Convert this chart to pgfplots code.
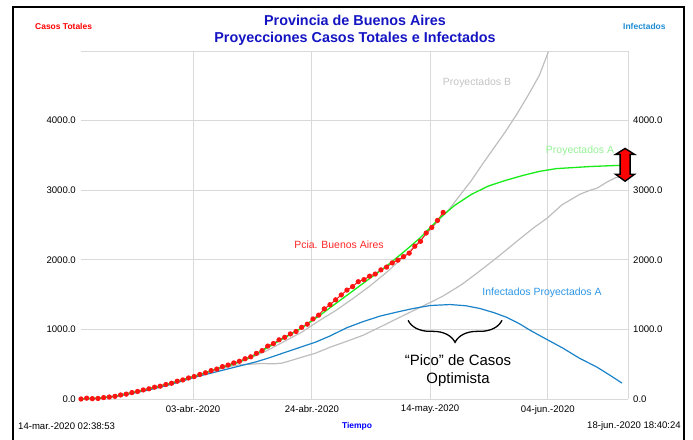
\documentclass[border=0pt]{standalone}
\usepackage{fontspec}
\setmainfont{Liberation Sans}
\usepackage{pgfplots}
\usepackage{pgfplotstable}
\pgfplotsset{compat=1.18}
\usetikzlibrary{decorations.pathreplacing}

\definecolor{gridgray}{RGB}{217,217,217}
\definecolor{projgray}{RGB}{190,190,190}
\definecolor{projgreen}{RGB}{25,235,25}
\definecolor{infblue}{RGB}{25,130,200}
\definecolor{titleblue}{RGB}{20,20,195}
\definecolor{lblgreen}{RGB}{150,240,150}
\definecolor{lblblue}{RGB}{45,150,230}
\definecolor{lblgray}{RGB}{195,195,195}
\definecolor{topblue}{RGB}{30,140,210}
\definecolor{datared}{RGB}{255,20,20}

% x = days since 14-mar-2020 02:38:53
\pgfplotstableread{
d v
0 0
1 12
2 5
3 8
4 20
5 28
6 38
7 58
8 70
9 92
10 108
11 130
12 146
13 170
14 184
15 208
16 226
17 255
18 274
19 302
20 322
21 352
22 376
23 408
24 430
25 465
26 488
27 518
28 542
29 578
30 606
31 655
32 695
33 760
34 796
35 850
36 886
37 935
38 970
39 1030
40 1075
41 1150
42 1205
43 1295
44 1355
45 1425
46 1495
47 1565
48 1615
49 1685
50 1715
51 1765
52 1795
53 1855
54 1895
55 1955
56 1995
57 2045
58 2095
59 2195
60 2265
61 2385
62 2465
63 2565
64 2680
}\casos

\pgfplotstableread{
d v
0 0
3 12
6 40
9 90
12 145
15 205
18 275
21 350
24 435
27 500
30 600
33 740
36 880
39 1020
42 1190
45 1370
48 1550
51 1730
54 1910
57 2110
60 2320
63 2570
66 2780
69 2940
72 3060
75 3140
78 3210
81 3270
84 3310
87 3325
90 3340
93 3350
95.3 3357
}\proyA

\pgfplotstableread{
d v
0 0
3 12
6 42
9 92
12 148
15 210
18 280
21 355
24 430
27 500
30 590
33 700
36 830
39 960
42 1120
45 1270
48 1440
51 1620
54 1820
57 2040
60 2280
63 2550
65 2720
67 2930
69 3140
71 3380
73 3610
75 3840
77 4090
79 4360
81 4650
82.6 4990
}\proyB

\pgfplotstableread{
d v
0 0
3 12
6 42
9 92
12 148
15 210
18 280
21 350
24 420
27 480
28.5 495
30 500
32 510
34 505
35.5 515
37 550
39 600
41.4 657
44 743
47 830
49.8 914
52 1000
54 1080
55.9 1157
58 1240
60 1320
61.7 1386
64 1480
66 1580
67.5 1657
70 1810
72.8 1986
75 2130
77.1 2271
80 2460
82.4 2600
85 2790
88.2 2943
90 3000
91.2 3029
93 3120
94.5 3180
96.6 3200
}\proyBajo

\pgfplotstableread{
d v
0 0
3 10
6 35
9 80
12 130
15 190
18 260
20.1 314
23.7 386
27.2 457
30.8 530
33 585
35 640
37 695
39 750
41.4 815
44 905
47 1025
49.8 1110
52.8 1190
55.9 1250
58.7 1300
61.7 1343
65.2 1357
68 1340
70.5 1300
73 1240
75.3 1171
77.5 1080
79.4 986
82 870
85.2 729
88 590
91.2 457
93.5 340
95.6 229
}\infectados

\begin{document}
\begin{tikzpicture}[x=1bp,y=1bp]
\path[use as bounding box] (0,0) rectangle (693,440);
\draw[line width=1.3bp] (13,-5) -- (13,433) -- (684,433) -- (684,-5);

\begin{axis}[
  at={(81bp,41bp)}, anchor=south west,
  scale only axis, width=547bp, height=348bp,
  xmin=0, xmax=96.67, ymin=0, ymax=5000,
  clip=false,
  axis line style={draw=none},
  major tick length=0pt,
  grid=major,
  grid style={gridgray, line width=0.8bp},
  xtick={19.8,40.8,61.7,82.5},
  xticklabels={03-abr.-2020,24-abr.-2020,14-may.-2020,04-jun.-2020},
  extra x ticks={96.67},
  extra x tick labels={},
  extra x tick style={grid=major},
  ytick={0,1000,2000,3000,4000,5000},
  yticklabels={0.0,1000.0,2000.0,3000.0,4000.0,{}},
  xticklabel style={font=\fontsize{9.6}{11}\selectfont, inner sep=0pt, yshift=-6bp},
  yticklabel style={font=\fontsize{9.6}{11}\selectfont, inner sep=0pt, xshift=-5bp},
]
\addplot[projgray, line width=1.2bp] table[x=d, y=v] {\proyBajo};
\addplot[infblue, line width=1.2bp] table[x=d, y=v] {\infectados};
\addplot[projgray, line width=1.2bp] table[x=d, y=v] {\proyB};
\addplot[datared, line width=1bp, mark=*, mark size=2.1bp, mark options={fill=datared, draw=datared}] table[x=d, y=v] {\casos};
\addplot[projgreen, line width=1.3bp] table[x=d, y=v] {\proyA};

% peak brace
\draw[decorate, decoration={brace, amplitude=22bp}, line width=1.3bp]
  (axis cs:74.4,1130) -- (axis cs:57.8,1130);
% range arrow
\draw[fill=red, draw=black, line width=1.4bp]
  (axis cs:96.15,3600) -- (axis cs:97.83,3514) -- (axis cs:97.03,3514) --
  (axis cs:97.03,3229) -- (axis cs:97.83,3229) -- (axis cs:96.15,3129) --
  (axis cs:94.47,3229) -- (axis cs:95.27,3229) -- (axis cs:95.27,3514) --
  (axis cs:94.47,3514) -- cycle;
\end{axis}

\begin{axis}[
  at={(81bp,41bp)}, anchor=south west,
  scale only axis, width=547bp, height=348bp,
  xmin=0, xmax=96.67, ymin=0, ymax=5000,
  axis y line*=right, hide x axis,
  axis line style={draw=none},
  major tick length=0pt,
  ytick={0,1000,2000,3000,4000},
  yticklabels={0.0,1000.0,2000.0,3000.0,4000.0},
  yticklabel style={font=\fontsize{9.6}{11}\selectfont, inner sep=0pt, xshift=5bp},
]
\end{axis}

% titles and labels
\node[font=\fontsize{14.4}{16}\selectfont\bfseries, text=titleblue] at (355,420) {Provincia de Buenos Aires};
\node[font=\fontsize{14.4}{16}\selectfont\bfseries, text=titleblue] at (355,401) {Proyecciones Casos Totales e Infectados};
\node[font=\fontsize{8.5}{10}\selectfont\bfseries, text=red, anchor=west, inner sep=0pt] at (35,414) {Casos Totales};
\node[font=\fontsize{8.5}{10}\selectfont\bfseries, text=topblue, anchor=west, inner sep=0pt] at (623,414) {Infectados};
\node[font=\fontsize{9.6}{11}\selectfont, anchor=west, inner sep=0pt] at (18,14) {14-mar.-2020 02:38:53};
\node[font=\fontsize{8.5}{10}\selectfont\bfseries, text=blue] at (357,14) {Tiempo};
\node[font=\fontsize{9.6}{11}\selectfont, anchor=east, inner sep=0pt] at (681,14) {18-jun.-2020 18:40:24};

\node[font=\fontsize{10.5}{12}\selectfont, text=lblgray] at (477,357) {Proyectados B};
\node[font=\fontsize{10.5}{12}\selectfont, text=lblgreen] at (580,289) {Proyectados A};
\node[font=\fontsize{10.5}{12}\selectfont, text=red!85!white] at (339,195) {Pcia. Buenos Aires};
\node[font=\fontsize{10.5}{12}\selectfont, text=lblblue] at (542,147) {Infectados Proyectados A};
\node[font=\fontsize{15}{17}\selectfont] at (458,80) {“Pico” de Casos};
\node[font=\fontsize{15}{17}\selectfont] at (458,60) {Optimista};
\end{tikzpicture}
\end{document}
